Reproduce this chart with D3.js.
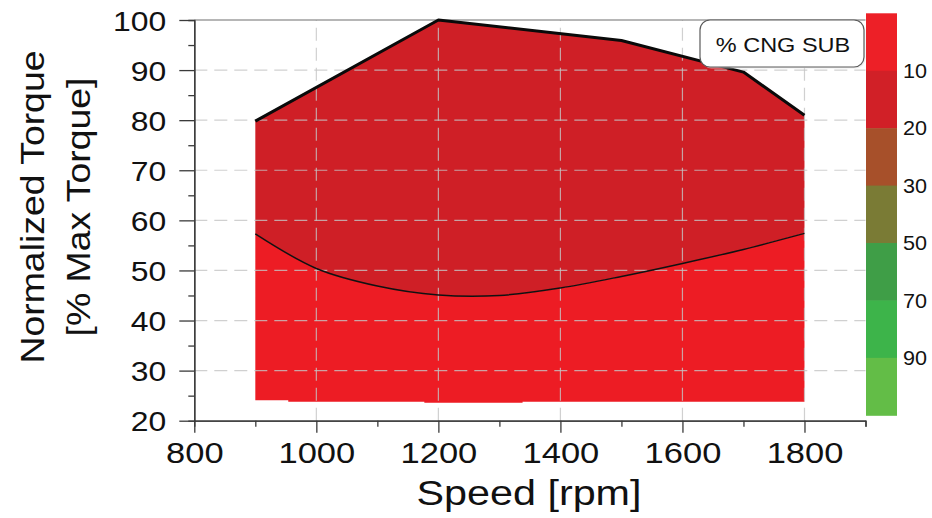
<!DOCTYPE html>
<html>
<head>
<meta charset="utf-8">
<script src="https://cdn.jsdelivr.net/npm/d3@7"></script>
<style>
  body { margin: 0; background: #fff; }
  svg { display: block; }
  text { font-family: "Liberation Sans", Arial, Helvetica, sans-serif; fill: #111; }
</style>
</head>
<body>
<svg id="chart" width="932" height="518"></svg>
<script>
// ---- data ----
const speedTicks = [800, 1000, 1200, 1400, 1600, 1800];
const speedMinor = [900, 1100, 1300, 1500, 1700, 1900];
const torqueTicks = [20, 30, 40, 50, 60, 70, 80, 90, 100];
const torqueMinor = [25, 35, 45, 55, 65, 75, 85, 95];

// full-load (maximum) torque curve
const maxSpeed  = [900, 1200, 1500, 1700, 1800];
const maxTorque = [79.8, 100, 95.9, 89.6, 81.0];

// boundary between the 10 % and 20 % substitution zones
const zoneSpeed  = [900, 1000, 1100, 1200, 1300, 1400, 1500, 1600, 1700, 1800];
const zoneTorque = [57.3, 50.4, 46.9, 45.1, 45.0, 46.5, 48.8, 51.4, 54.2, 57.4];

// lower edge of the mapped operating region
const floorSpeed  = [900, 954, 1177, 1338, 1800];
const floorTorque = [24.1, 23.8, 23.6, 23.8, 23.8];

// colour key for % CNG substitution
const substLabels = ["10", "20", "30", "50", "70", "90"];
const bandColors = ["#ED2027", "#D12027", "#A7502A", "#7A7B35", "#3F9E47", "#3DB44A", "#63BD47"];
const zoneColors = { low: "#ED1C24", high: "#CF1F26" };

// ---- layout ----
const svg = d3.select("#chart");
const x = d3.scaleLinear().domain([800, 1900]).range([194.3, 865.5]);
const y = d3.scaleLinear().domain([20, 100]).range([420.7, 20]);

const pts = (xs, ys) => xs.map((v, i) => [x(v), y(ys[i])]);
const topPts = pts(maxSpeed, maxTorque);
const zonePts = pts(zoneSpeed, zoneTorque);
const floorPts = pts(floorSpeed, floorTorque);

const linear = d3.line().curve(d3.curveLinear);
const smooth = d3.line().curve(d3.curveCatmullRom.alpha(0.5));
const step = d3.line().curve(d3.curveStepAfter);

// lower (10 %) zone: floor edge, then back along the zone boundary
const zoneBack = smooth(zonePts.slice().reverse()).replace(/^M/, "L");
svg.append("path")
  .attr("d", step(floorPts) + zoneBack + "Z")
  .attr("fill", zoneColors.low);

// upper (20 %) zone: torque curve, then back along the zone boundary
svg.append("path")
  .attr("d", linear(topPts) + zoneBack + "Z")
  .attr("fill", zoneColors.high);

// dashed grid
const grid = svg.append("g")
  .attr("stroke", "#c4c4c4").attr("stroke-opacity", 0.8)
  .attr("stroke-width", 1.2).attr("stroke-dasharray", "13,7");
grid.selectAll("line.v").data(speedTicks.slice(1)).join("line")
  .attr("x1", d => x(d)).attr("x2", d => x(d))
  .attr("y1", y(20)).attr("y2", y(100));
grid.selectAll("line.h").data(torqueTicks.slice(1, -1)).join("line")
  .attr("x1", x(800)).attr("x2", x(1900))
  .attr("y1", d => y(d)).attr("y2", d => y(d));

// top frame
svg.append("line")
  .attr("x1", x(800)).attr("x2", x(1900))
  .attr("y1", y(100)).attr("y2", y(100))
  .attr("stroke", "#6e6e6e").attr("stroke-width", 1.2);

// zone boundary and full-load curve
svg.append("path").attr("d", smooth(zonePts))
  .attr("fill", "none").attr("stroke", "#111").attr("stroke-width", 1.5);
svg.append("path").attr("d", linear(topPts))
  .attr("fill", "none").attr("stroke", "#0a0a0a").attr("stroke-width", 3)
  .attr("stroke-linejoin", "round");

// ---- axes ----
const axisColor = "#3a3a3a";
function styleAxis(g) {
  g.select(".domain").attr("stroke", axisColor).attr("stroke-width", 1.3);
  g.selectAll(".tick line").attr("stroke", axisColor).attr("stroke-width", 1.3);
}

const xMinor = svg.append("g").attr("transform", `translate(0,${y(20)})`)
  .call(d3.axisBottom(x).tickValues(speedMinor).tickSize(6).tickFormat(""));
styleAxis(xMinor);
const xAxis = svg.append("g").attr("transform", `translate(0,${y(20)})`)
  .call(d3.axisBottom(x).tickValues(speedTicks).tickSize(12).tickSizeOuter(0)
    .tickFormat(d3.format("d")));
styleAxis(xAxis);
xAxis.selectAll(".tick text")
  .attr("y", 0).attr("dy", 0)
  .attr("transform", "translate(0,42) scale(1.15,1)")
  .style("font-size", "30px").attr("fill", "#111");

const yMinor = svg.append("g").attr("transform", `translate(${x(800)},0)`)
  .call(d3.axisLeft(y).tickValues(torqueMinor).tickSize(6).tickFormat(""));
styleAxis(yMinor);
const yAxis = svg.append("g").attr("transform", `translate(${x(800)},0)`)
  .call(d3.axisLeft(y).tickValues(torqueTicks).tickSize(15).tickSizeOuter(0)
    .tickFormat(d3.format("d")));
styleAxis(yAxis);
yAxis.selectAll(".tick text")
  .attr("x", 0).attr("dy", "0.36em")
  .attr("transform", "translate(-28,0) scale(1.12,1)")
  .style("font-size", "28.5px").attr("fill", "#111");

// axis titles
svg.append("text")
  .attr("transform", "translate(529,505) scale(1.18,1)")
  .attr("text-anchor", "middle").style("font-size", "35px")
  .text("Speed [rpm]");
svg.append("text")
  .attr("transform", "translate(43.5,207) rotate(-90) scale(1.15,1)")
  .attr("text-anchor", "middle").style("font-size", "32.5px")
  .text("Normalized Torque");
svg.append("text")
  .attr("transform", "translate(90,207) rotate(-90) scale(1.15,1)")
  .attr("text-anchor", "middle").style("font-size", "32.5px")
  .text("[% Max Torque]");

// ---- colour key ----
const band = d3.scaleBand().domain(d3.range(bandColors.length)).range([13.3, 415.3]);
svg.append("g").selectAll("rect").data(bandColors).join("rect")
  .attr("x", 866).attr("width", 31)
  .attr("y", (d, i) => band(i)).attr("height", band.bandwidth() + 0.5)
  .attr("fill", d => d);
svg.append("g").selectAll("text").data(substLabels).join("text")
  .attr("transform", (d, i) => `translate(903,${band(i + 1)}) scale(1.08,1)`)
  .attr("dy", "0.36em").style("font-size", "20px")
  .text(d => d);

// legend label box
const legend = svg.append("g");
legend.append("rect")
  .attr("x", 701.5).attr("y", 21.5).attr("width", 164).attr("height", 47)
  .attr("rx", 10).attr("fill", "#e4e4e4").attr("opacity", 0.6);
legend.append("rect")
  .attr("x", 700).attr("y", 20).attr("width", 164).attr("height", 47)
  .attr("rx", 10).attr("fill", "#fff").attr("stroke", "#5a5a5a").attr("stroke-width", 1.2);
legend.append("text")
  .attr("transform", "translate(783,51.5) scale(1.12,1)")
  .attr("text-anchor", "middle").style("font-size", "21px").attr("fill", "#1a1a24")
  .text("% CNG SUB");
</script>
</body>
</html>
